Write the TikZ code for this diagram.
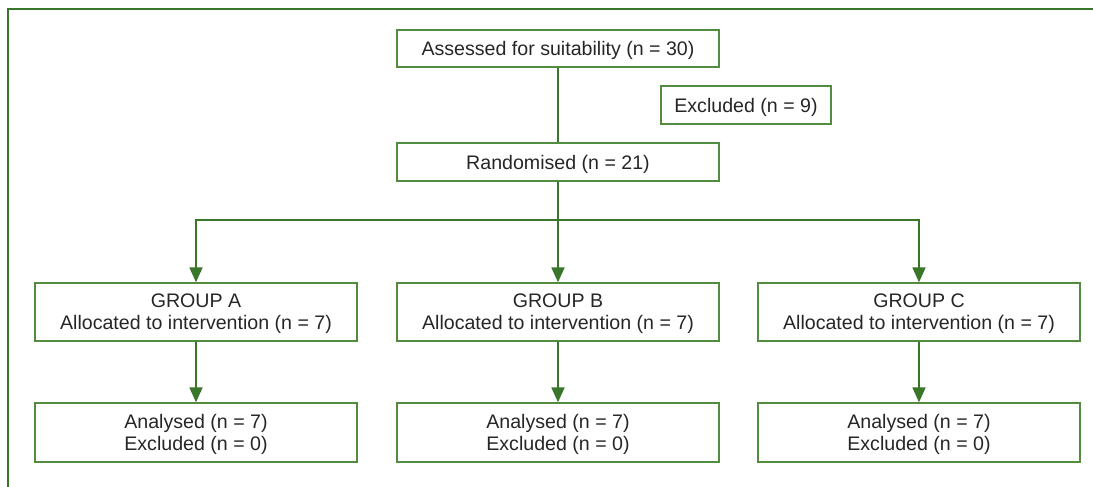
\documentclass[tikz,border=0pt]{standalone}
\usepackage{fontspec}
\setmainfont{Liberation Sans}
\usetikzlibrary{arrows.meta}
\definecolor{flowgreen}{RGB}{58,118,42}
\definecolor{boxgreen}{RGB}{82,140,62}
\definecolor{txtgray}{RGB}{38,38,38}
\tikzset{
  flowbox/.style={draw=boxgreen, line width=1.3pt, minimum width=322pt, inner sep=0pt,
    align=center, text=txtgray, text depth=0pt, font=\fontsize{19.6}{22}\selectfont},
  flowline/.style={draw=flowgreen, line width=1.8pt},
  flowarrow/.style={flowline, -{Triangle[width=13pt,length=15pt]}}
}
\begin{document}
\begin{tikzpicture}[x=1pt,y=-1pt]
            \useasboundingbox (0,0) rectangle (1093,487);
            \draw[flowgreen, line width=2pt] (8,487) -- (8,9) -- (1093,9);
            \node[flowbox, minimum height=37pt] (assess) at (558,48.5) {Assessed for suitability (n = 30)};
            \node[flowbox, minimum width=170pt, minimum height=38pt] (excl) at (746,105) {Excluded (n = 9)};
            \node[flowbox, minimum height=38pt] (rand) at (558,162) {Randomised (n = 21)};
            \draw[flowline] (assess) -- (rand);
            \coordinate (split) at (558,220);
            \draw[flowline] (rand) -- (split);
            \foreach \g/\x in {A/196,B/558,C/919} {
                \node[flowbox, minimum height=58pt] (grp\g) at (\x,312) {GROUP \g\\Allocated to intervention (n = 7)};
                \node[flowbox, minimum height=59pt] (ana\g) at (\x,432.5) {Analysed (n = 7)\\Excluded (n = 0)};
                \draw[flowarrow] (split) -| (grp\g);
                \draw[flowarrow] (grp\g) -- (ana\g);
            }
        \end{tikzpicture}
\end{document}
